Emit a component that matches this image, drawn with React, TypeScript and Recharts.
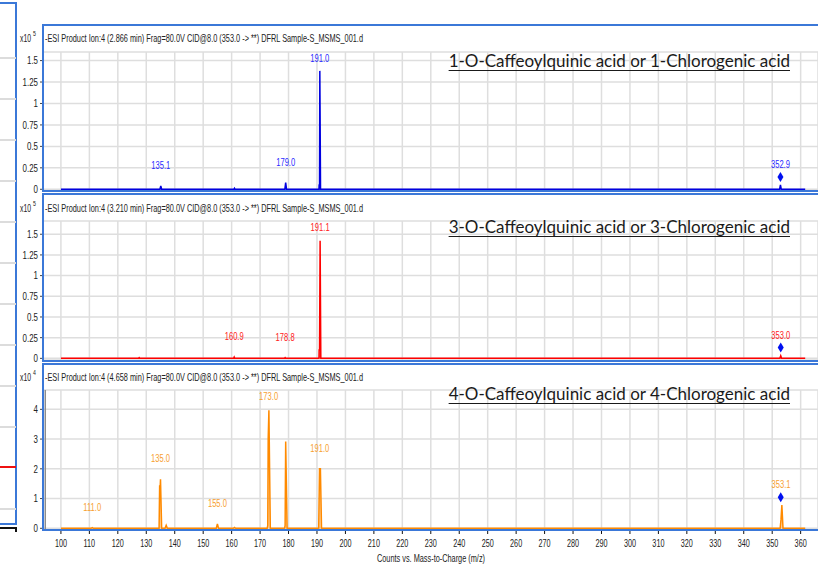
import React from 'react';
import {
  Area,
  CartesianGrid,
  ComposedChart,
  ReferenceLine,
  Scatter,
  XAxis,
  YAxis,
} from 'recharts';

// m/z axis shared by all three spectra
const MZ_MIN = 93.7;
const MZ_MAX = 366.1;
const mzTicks = [
  100, 110, 120, 130, 140, 150, 160, 170, 180, 190, 200, 210, 220, 230, 240,
  250, 260, 270, 280, 290, 300, 310, 320, 330, 340, 350, 360,
];

// 1-O-Caffeoylquinic acid (x10^5)
const mz1 = [100, 134.8, 135.1, 135.4, 160.8, 161.0, 161.2, 178.7, 179.0, 179.3, 190.7, 190.75, 190.9, 191.0, 191.25, 352.6, 352.9, 353.2, 361.6];
const int1 = [0, 0, 0.04, 0, 0, 0.012, 0, 0, 0.077, 0, 0, 0.05, 0.06, 1.38, 0, 0, 0.05, 0, 0];
const labelMz1 = [135.1, 179.0, 191.0, 352.9];
const labelInt1 = [0.04, 0.077, 1.38, 0.05];
const precursor1 = [352.9, 0.144];

// 3-O-Caffeoylquinic acid (x10^5)
const mz2 = [100, 127.3, 127.5, 127.7, 160.7, 160.9, 161.1, 178.6, 178.8, 179.0, 190.7, 190.75, 190.9, 191.1, 191.35, 352.7, 353.0, 353.3, 361.6];
const int2 = [0, 0, 0.008, 0, 0, 0.015, 0, 0, 0.008, 0, 0, 0.1, 0.1, 1.42, 0, 0, 0.03, 0, 0];
const labelMz2 = [160.9, 178.8, 191.1, 353.0];
const labelInt2 = [0.015, 0.008, 1.42, 0.03];
const precursor2 = [353.0, 0.13];

// 4-O-Caffeoylquinic acid (x10^4)
const mz3 = [100, 110.6, 111.0, 111.4, 134.5, 134.7, 134.85, 135.0, 135.4, 136.6, 137.0, 137.4, 154.6, 155.0, 155.4, 160.6, 161.0, 161.4, 172.5, 172.7, 172.85, 173.1, 173.6, 178.6, 178.8, 179.0, 179.5, 190.6, 190.9, 191.2, 191.6, 352.8, 353.1, 353.4, 353.8, 361.6];
const int3 = [0, 0, 0.02, 0, 0, 1.45, 1.3, 1.65, 0, 0, 0.1, 0, 0, 0.15, 0, 0, 0.03, 0, 0, 0.1, 3.0, 3.97, 0, 0, 0.1, 2.92, 0, 0, 2.0, 2.0, 0, 0, 0.3, 0.78, 0, 0];
const labelMz3 = [111.0, 135.0, 155.0, 173.0, 191.0, 353.1];
const labelInt3 = [0.02, 1.65, 0.15, 3.97, 2.0, 0.78];
const precursor3 = [353.0, 1.04];

const yTicks5 = [0, 0.25, 0.5, 0.75, 1, 1.25, 1.5];
const yTicks4 = [0, 1, 2, 3, 4];

const SANS = '"Liberation Sans", Arial, sans-serif';
const FRAME = '#3b78d8';

const toPoints = (mz: number[], v: number[]) => mz.map((m, i) => ({ mz: m, v: v[i] }));
const toLabels = (mz: number[], v: number[]) =>
  mz.map((m, i) => ({ mz: m, v: v[i], text: m.toFixed(1) }));

// the instrument software draws its labels in a very condensed face
function YTick(props: any) {
  const { x, y, payload } = props;
  return (
    <g transform={`translate(${x},${y})`}>
      <text transform="scale(0.72,1)" textAnchor="end" dy="0.35em" fontSize={11} fill="#222" fontFamily={SANS}>
        {payload.value}
      </text>
    </g>
  );
}

function XTick(props: any) {
  const { x, y, payload } = props;
  return (
    <g transform={`translate(${x},${y})`}>
      <text transform="scale(0.63,1)" textAnchor="middle" dy="0.71em" fontSize={11.5} fill="#222" fontFamily={SANS}>
        {payload.value}
      </text>
    </g>
  );
}

interface PanelProps {
  top: number;
  height: number;
  marginTop: number;
  marginBottom: number;
  yDomain: [number, number];
  yTicks: number[];
  color: string;
  labelColor: string;
  fillOpacity: number;
  mz: number[];
  intensity: number[];
  labelMz: number[];
  labelInt: number[];
  precursor: number[];
  showX?: boolean;
  axisMark?: number;
}

function Spectrum(p: PanelProps) {
  const profile = toPoints(p.mz, p.intensity);
  const labels = toLabels(p.labelMz, p.labelInt);
  const diamond = [{ mz: p.precursor[0], v: p.precursor[1] }];
  const minLabelY = p.marginTop + 6;

  const renderLabel = (props: any) => {
    const { cx, cy, payload } = props;
    return (
      <g transform={`translate(${cx},${Math.max(cy - 21, minLabelY)})`}>
        <text
          transform="scale(0.66,1)"
          textAnchor="middle"
          dy="0.35em"
          fill={p.labelColor}
          fontSize={11.5}
          fontFamily={SANS}
        >
          {payload.text}
        </text>
      </g>
    );
  };

  const renderDiamond = (props: any) => {
    const { cx, cy } = props;
    return (
      <polygon
        points={`${cx},${cy - 5} ${cx + 3},${cy} ${cx},${cy + 5} ${cx - 3},${cy}`}
        fill="#0010f0"
      />
    );
  };

  return (
    <div style={{ position: 'absolute', left: 0, top: p.top, width: 818, height: p.height }}>
      <ComposedChart
        width={818}
        height={p.height}
        margin={{ top: p.marginTop, right: 0, bottom: p.marginBottom, left: 0 }}
      >
        <CartesianGrid stroke="#dedede" strokeWidth={1.5} />
        <XAxis
          dataKey="mz"
          type="number"
          domain={[MZ_MIN, MZ_MAX]}
          ticks={mzTicks}
          interval={0}
          allowDataOverflow
          hide={!p.showX}
          height={30}
          tickSize={4}
          tickMargin={5}
          tick={<XTick />}
          tickLine={{ stroke: '#111' }}
          axisLine={{ stroke: '#111', strokeWidth: 2 }}
        />
        <YAxis
          type="number"
          domain={p.yDomain}
          ticks={p.yTicks}
          interval={0}
          allowDataOverflow
          width={43}
          tickSize={3}
          tickMargin={2}
          tick={<YTick />}
          tickLine={{ stroke: '#444' }}
          axisLine={{ stroke: '#9a9a9a', strokeWidth: 2 }}
        />
        {p.axisMark !== undefined && (
          <ReferenceLine x={p.axisMark} stroke="#8c8c8c" strokeWidth={1.5} />
        )}
        <Area
          data={profile}
          dataKey="v"
          type="linear"
          stroke={p.color}
          strokeWidth={1.5}
          fill={p.color}
          fillOpacity={p.fillOpacity}
          dot={false}
          activeDot={false}
          isAnimationActive={false}
        />
        <Scatter data={diamond} dataKey="v" shape={renderDiamond} isAnimationActive={false} />
        <Scatter data={labels} dataKey="v" shape={renderLabel} isAnimationActive={false} />
      </ComposedChart>
    </div>
  );
}

function Compound({ top, text }: { top: number; text: string }) {
  return (
    <div
      style={{
        position: 'absolute',
        right: 28,
        top: top - 11,
        fontFamily: 'Lato, "Open Sans", sans-serif',
        fontSize: 17,
        lineHeight: '22px',
        color: '#1a1a1a',
        textDecoration: 'underline',
        textUnderlineOffset: 3,
        whiteSpace: 'nowrap',
      }}
    >
      {text}
    </div>
  );
}

function Frame({ top, height }: { top: number; height: number }) {
  return (
    <div
      style={{
        position: 'absolute',
        left: 42,
        top,
        width: 800,
        height,
        border: `2px solid ${FRAME}`,
        boxSizing: 'border-box',
        pointerEvents: 'none',
      }}
    />
  );
}

function BackWindow() {
  const rows = [57, 98, 139, 180, 221, 262, 303, 344, 385, 426, 508];
  return (
    <>
      <div
        style={{
          position: 'absolute',
          left: -4,
          top: 2,
          width: 21,
          height: 523,
          borderRight: `2px solid ${FRAME}`,
          borderBottom: `2px solid ${FRAME}`,
          borderTop: `2px solid ${FRAME}`,
          boxSizing: 'border-box',
        }}
      />
      {rows.map((y) => (
        <div key={y} style={{ position: 'absolute', left: 0, top: y, width: 16, height: 1.5, background: '#dcdcdc' }} />
      ))}
      <div style={{ position: 'absolute', left: 0, top: 466, width: 16, height: 1.5, background: '#ee1111' }} />
      <div style={{ position: 'absolute', left: 0, top: 527, width: 16, height: 1.5, background: '#111' }} />
      <div style={{ position: 'absolute', left: 15, top: 527, width: 1.5, height: 5, background: '#111' }} />
    </>
  );
}

const headerText = (min: string) =>
  `-ESI Product Ion:4 (${min} min) Frag=80.0V CID@8.0 (353.0 -> **) DFRL Sample-S_MSMS_001.d`;

const headers = [
  { y: 42, exp: '5', text: headerText('2.866') },
  { y: 212, exp: '5', text: headerText('3.210') },
  { y: 381, exp: '4', text: headerText('4.658') },
];

export default function App() {
  return (
    <div
      style={{
        position: 'absolute',
        left: 0,
        top: 0,
        width: 818,
        height: 569,
        overflow: 'hidden',
        background: '#fff',
      }}
    >
      <BackWindow />

      <Spectrum
        top={25}
        height={174}
        marginTop={27}
        marginBottom={8}
        yDomain={[-0.02, 1.6]}
        yTicks={yTicks5}
        color="#0000e0"
        labelColor="#2a2aff"
        fillOpacity={0.6}
        mz={mz1}
        intensity={int1}
        labelMz={labelMz1}
        labelInt={labelInt1}
        precursor={precursor1}
      />
      <Spectrum
        top={193}
        height={175}
        marginTop={28}
        marginBottom={8}
        yDomain={[-0.02, 1.66]}
        yTicks={yTicks5}
        color="#ff0000"
        labelColor="#ff1a1a"
        fillOpacity={0.6}
        mz={mz2}
        intensity={int2}
        labelMz={labelMz2}
        labelInt={labelInt2}
        precursor={precursor2}
      />
      <Spectrum
        top={363}
        height={197}
        marginTop={27}
        marginBottom={0}
        yDomain={[-0.057, 4.65]}
        yTicks={yTicks4}
        color="#ff8a00"
        labelColor="#f7a030"
        fillOpacity={0.35}
        mz={mz3}
        intensity={int3}
        labelMz={labelMz3}
        labelInt={labelInt3}
        precursor={precursor3}
        showX
        axisMark={94.5}
      />

      <Frame top={24} height={168} />
      <Frame top={193} height={169} />
      <Frame top={363} height={168} />

      <Compound top={61} text="1-O-Caffeoylquinic acid or 1-Chlorogenic acid" />
      <Compound top={227} text="3-O-Caffeoylquinic acid or 3-Chlorogenic acid" />
      <Compound top={394} text="4-O-Caffeoylquinic acid or 4-Chlorogenic acid" />

      <svg
        width={818}
        height={569}
        style={{ position: 'absolute', left: 0, top: 0, pointerEvents: 'none' }}
        fontFamily={SANS}
        fill="#222"
      >
        {headers.map((h) => (
          <g key={h.y}>
            <g transform={`translate(20,${h.y}) scale(0.65,1)`}>
              <text fontSize={10.5}>
                x10
                <tspan dx={3} dy={-6} fontSize={8}>
                  {h.exp}
                </tspan>
              </text>
            </g>
            <text x={45} y={h.y} fontSize={11.5} textLength={318} lengthAdjust="spacingAndGlyphs">
              {h.text}
            </text>
          </g>
        ))}
        <text x={377} y={562} fontSize={11.5} textLength={108} lengthAdjust="spacingAndGlyphs">
          Counts vs. Mass-to-Charge (m/z)
        </text>
      </svg>
    </div>
  );
}
